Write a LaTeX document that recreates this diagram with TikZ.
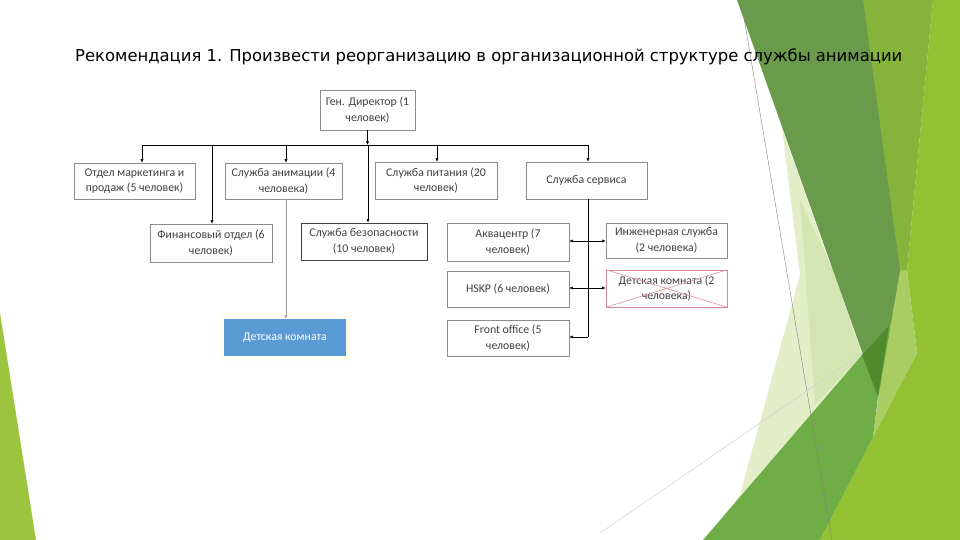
\documentclass[tikz,border=0pt]{standalone}
\usepackage{fontspec}
\setmainfont{Carlito}
\newfontfamily\titlefont{DejaVu Sans}
\usetikzlibrary{arrows.meta}
\definecolor{boxgray}{HTML}{8C8C8C}
\definecolor{txt}{HTML}{404040}
\definecolor{kidblue}{HTML}{5B9BD5}
\definecolor{crossred}{HTML}{E8909C}
\definecolor{gLime}{HTML}{93C133}
\definecolor{gOlive}{HTML}{86B43A}
\definecolor{gSliver}{HTML}{A9CD62}
\definecolor{gDark}{HTML}{6A9B4B}
\definecolor{gTip}{HTML}{4F8A2C}
\definecolor{gMid}{HTML}{6FAE47}
\definecolor{gPale}{HTML}{E3EDC8}
\definecolor{gPale2}{HTML}{D5E5B2}
\definecolor{gLeft}{HTML}{9CC43F}
\tikzset{
  box/.style={draw=boxgray, line width=0.6pt, align=center, text=txt, inner sep=0pt,
    font=\fontsize{11.8}{15.5}\selectfont},
  arr/.style={-{Latex[length=3.5pt,width=3pt]}, line width=0.5pt, black},
  darr/.style={{Latex[length=3.5pt,width=3pt]}-{Latex[length=3.5pt,width=3pt]}, line width=0.5pt, black},
}
\begin{document}
\begin{tikzpicture}[x=1pt,y=-1pt]
\useasboundingbox (0,0) rectangle (960,540);
\fill[white] (0,0) rectangle (960,540);
% background facets
\fill[gLeft] (0,313) -- (36,540) -- (0,540) -- cycle;
\fill[gOlive] (855,0) -- (933,0) -- (907,270) -- (900,300) -- (880,400) -- cycle;
\fill[gLime] (933,0) -- (960,0) -- (960,540) -- (820,540) -- (873,437) -- (917,353) -- (907,270) -- cycle;
\fill[gSliver] (900,270) -- (907,270) -- (917,353) -- (873,437) -- (878,400) -- cycle;
\fill[gPale] (782,128) -- (862,355) -- (722,518) -- (740,495) -- (800,275) -- cycle;
\fill[gPale2] (800,200) -- (833,270) -- (862,355) -- (815,405) -- cycle;
\fill[gDark] (737,0) -- (863,0) -- (900,270) -- (878,397) -- cycle;
\fill[gMid] (703,540) -- (862,355) -- (890,325) -- (878,397) -- (873,437) -- (820,540) -- cycle;
\fill[gTip] (862,355) -- (889,326) -- (878,397) -- cycle;
\draw[gray, line width=0.4pt] (741,0) -- (832,540);
\draw[black!18, line width=0.5pt] (600,533) -- (862,353);
% title
\node[anchor=base west, inner sep=0pt] (title) at (75,62)
  {\resizebox{827pt}{!}{\titlefont\fontsize{15}{18}\selectfont Рекомендация 1. Произвести реорганизацию в организационной структуре службы анимации}};
% boxes
\node[box, minimum width=95pt, minimum height=40pt] (dir) at (367.5,110) {Ген. Директор (1\\человек)};
\node[box, minimum width=121pt, minimum height=36pt] (mkt) at (134.5,181) {Отдел маркетинга и\\продаж (5 человек)};
\node[box, minimum width=117pt, minimum height=36pt] (anim) at (283.5,181) {Служба анимации (4\\человека)};
\node[box, minimum width=122pt, minimum height=37pt] (food) at (436,180.5) {Служба питания (20\\человек)};
\node[box, minimum width=121pt, minimum height=37pt] (serv) at (586.5,180.5) {Служба сервиса};
\node[box, minimum width=122pt, minimum height=38pt] (fin) at (211,243) {Финансовый отдел (6\\человек)};
\node[box, draw=black!75, line width=0.9pt, minimum width=126pt, minimum height=37pt] (sec) at (364,241.5) {Служба безопасности\\(10 человек)};
\fill[yellow!5] (219,314) rectangle (351,361);
\node[box, draw=none, fill=kidblue, text=white, minimum width=122pt, minimum height=37pt] (kid) at (285,337.5) {Детская комната};
\node[box, minimum width=122pt, minimum height=38pt] (aqua) at (508,242) {Аквацентр (7\\человек)};
\node[box, minimum width=122pt, minimum height=36pt] (hskp) at (508,289) {HSKP (6 человек)};
\node[box, minimum width=122pt, minimum height=36pt] (front) at (508,338) {Front office (5\\человек)};
\node[box, minimum width=121pt, minimum height=35pt] (eng) at (666.5,240.5) {Инженерная служба\\(2 человека)};
\node[box, draw=crossred!80!gray, minimum width=121pt, minimum height=37pt] (kid2) at (666.5,288.5) {Детская комната (2\\человека)};
\draw[crossred, line width=0.6pt] (kid2.north west) -- (kid2.south east) (kid2.south west) -- (kid2.north east);
% connectors
\coordinate (b1) at (142,145);
\coordinate (b2) at (212,145);
\coordinate (b3) at (286,145);
\coordinate (b4) at (368,145);
\coordinate (b5) at (437,145);
\coordinate (b6) at (588,145);
\draw[arr] (dir.south) -- (dir.south |- b1);
\draw[line width=0.5pt] (b1) -- (b6);
\draw[arr] (b1) -- (b1 |- mkt.north);
\draw[arr] (b3) -- (b3 |- anim.north);
\draw[arr] (b5) -- (b5 |- food.north);
\draw[arr] (b6) -- (b6 |- serv.north);
\draw[arr] (b2) -- (b2 |- fin.north);
\draw[arr] (b4) -- (b4 |- sec.north);
\draw[-{Latex[length=3.5pt,width=3pt]}, line width=0.4pt, black!40] (b3 |- anim.south) -- (b3 |- kid.north);
\coordinate (s1) at (588,241);
\coordinate (s2) at (588,288);
\coordinate (s3) at (588,337);
\draw[line width=0.5pt] (b6 |- serv.south) -- (s3);
\draw[darr] (s1 -| aqua.east) -- (s1 -| eng.west);
\draw[darr] (s2 -| hskp.east) -- (s2 -| kid2.west);
\draw[arr] (s3) -- (s3 -| front.east);
\end{tikzpicture}
\end{document}
